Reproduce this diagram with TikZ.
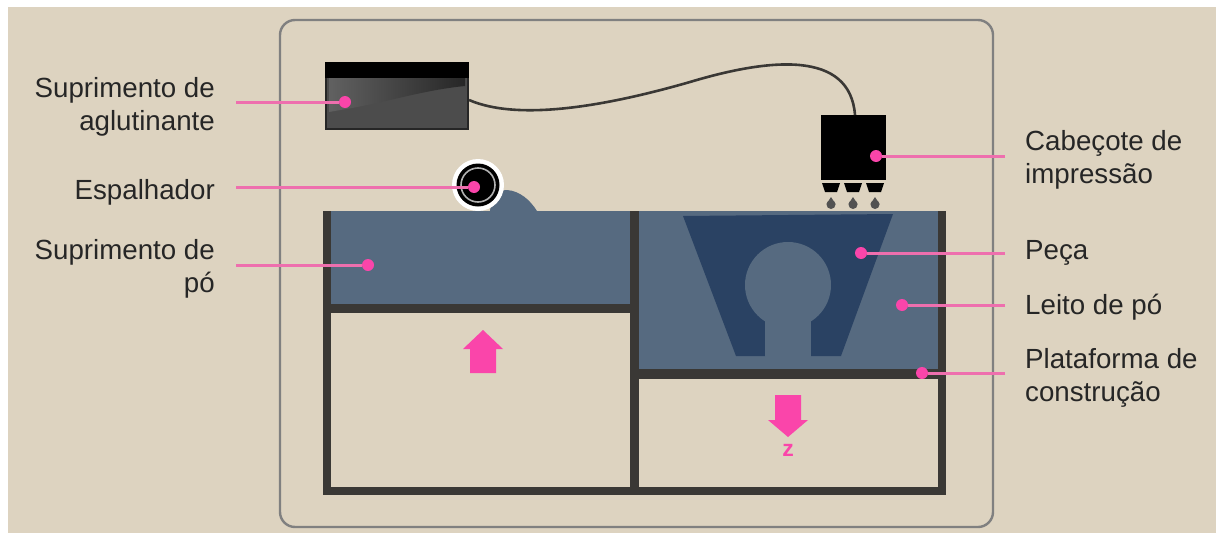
\documentclass[tikz,border=0pt]{standalone}
\usepackage{fontspec}
\setmainfont{Liberation Sans}
\definecolor{paper}{HTML}{DDD3C0}
\definecolor{wallgray}{HTML}{3A3835}
\definecolor{powder}{HTML}{566A80}
\definecolor{partblue}{HTML}{2A4263}
\definecolor{leader}{HTML}{EE6FAE}
\definecolor{hotpink}{HTML}{FA45AA}
\begin{document}
\begin{tikzpicture}[x=1pt,y=-1pt,
  lbl/.style={font=\fontsize{27.7}{33}\selectfont,text=black!85,inner sep=0pt,align=right,anchor=east},
  rlbl/.style={lbl,align=left,anchor=west},
  dot/.style={circle,fill=hotpink,minimum size=12pt,inner sep=0pt},
  lead/.style={leader,line width=3pt},
  wall/.style={fill=wallgray,draw=none},
  pile/.style={fill=powder,draw=none}]
\useasboundingbox (0,0) rectangle (1216,533);
\fill[white] (0,0) rectangle (1216,533);
\fill[paper] (8,7) rectangle (1216,533);
\draw[black!50,line width=2.4pt,rounded corners=15pt] (280,20) rectangle (993,527);
% binder tank
\fill[black!70] (325,62) rectangle (469,130);
\shade[left color=black!62,right color=black!85] (329,78) -- (465,78) -- (465,86) .. controls (425,90) and (395,100) .. (352,108) -- (329,112) -- cycle;
\draw[black!85,line width=2.5pt] (326,63) rectangle (468,129);
\fill[black] (325,62) rectangle (469,78);
% print head
\fill[black] (821,115) rectangle (886,180);
\foreach \x in {831,853,875} {
  \fill[black] (\x-9,183) -- (\x+9,183) -- (\x+6,192) -- (\x-6,192) -- cycle;
  \fill[black!68] (\x,197) -- (\x+4.5,204) -- (\x-4.5,204) -- cycle;
  \fill[black!68] (\x,204.5) circle[radius=4.5];
}
% tube
\coordinate (tubestart) at (469,100);
\coordinate (tubeend) at (855,115);
\draw[wallgray,line width=2.6pt] (tubestart) .. controls (520,122) and (610,105) .. (690,82) .. controls (770,58) and (850,50) .. (tubeend);
% powder
\fill[pile] (331,211) rectangle (630,304);
\fill[pile] (639,211) rectangle (938,369);
\fill[pile] (490,211) .. controls (492,195) and (500,190) .. (507,190) .. controls (520,191) and (530,200) .. (537,211) -- cycle;
% part
\fill[partblue] (683,216) -- (893,214) -- (841,356) -- (811,356) -- (811,326) -- (765,326) -- (765,356) -- (736,356) -- cycle;
\fill[powder] (788,285) circle[radius=43];
\fill[powder] (765,310) rectangle (811,356);
% chamber walls
\fill[wall] (323,211) rectangle (331,495);
\fill[wall] (630,211) rectangle (639,495);
\fill[wall] (938,211) rectangle (946,495);
\fill[wall] (323,487) rectangle (946,495);
\fill[wall] (331,304) rectangle (630,313);
\fill[wall] (639,369) rectangle (938,379);
% spreader
\fill[white] (478,185) circle[radius=26];
\fill[black] (478,185) circle[radius=21.5];
\draw[black!30,line width=1.6pt] (478,185) circle[radius=17];
% arrows
\fill[hotpink] (483,330) -- (503,349) -- (496,349) -- (496,373) -- (470,373) -- (470,349) -- (463,349) -- cycle;
\fill[hotpink] (775,395) -- (801,395) -- (801,420) -- (808,420) -- (788,437) -- (768,420) -- (775,420) -- cycle;
\node[font=\bfseries\fontsize{23}{23}\selectfont,text=hotpink,inner sep=0pt] (zlabel) at (788,450) {z};
% labels
\node[lbl] (binder) at (215,107) {Suprimento de\\aglutinante};
\node[lbl] (spreader) at (215,192) {Espalhador};
\node[lbl] (supply) at (215,269) {Suprimento de\\pó};
\node[rlbl] (head) at (1025,160) {Cabeçote de\\impressão};
\node[rlbl] (partlbl) at (1025,253) {Peça};
\node[rlbl] (bed) at (1025,307) {Leito de pó};
\node[rlbl] (platform) at (1025,378) {Plataforma de\\construção};
% leaders
\node[dot] (d1) at (345,102) {};
\node[dot] (d2) at (474,187) {};
\node[dot] (d3) at (368,265) {};
\node[dot] (d4) at (876,156) {};
\node[dot] (d5) at (861,253) {};
\node[dot] (d6) at (902,305) {};
\node[dot] (d7) at (922,373) {};
\coordinate (e1) at (236,102);
\coordinate (e2) at (236,187);
\coordinate (e3) at (236,265);
\coordinate (e4) at (1005,156);
\coordinate (e5) at (1005,253);
\coordinate (e6) at (1005,305);
\coordinate (e7) at (1005,373);
\foreach \i in {1,...,7} \draw[lead] (e\i) -- (d\i);
\end{tikzpicture}
\end{document}
